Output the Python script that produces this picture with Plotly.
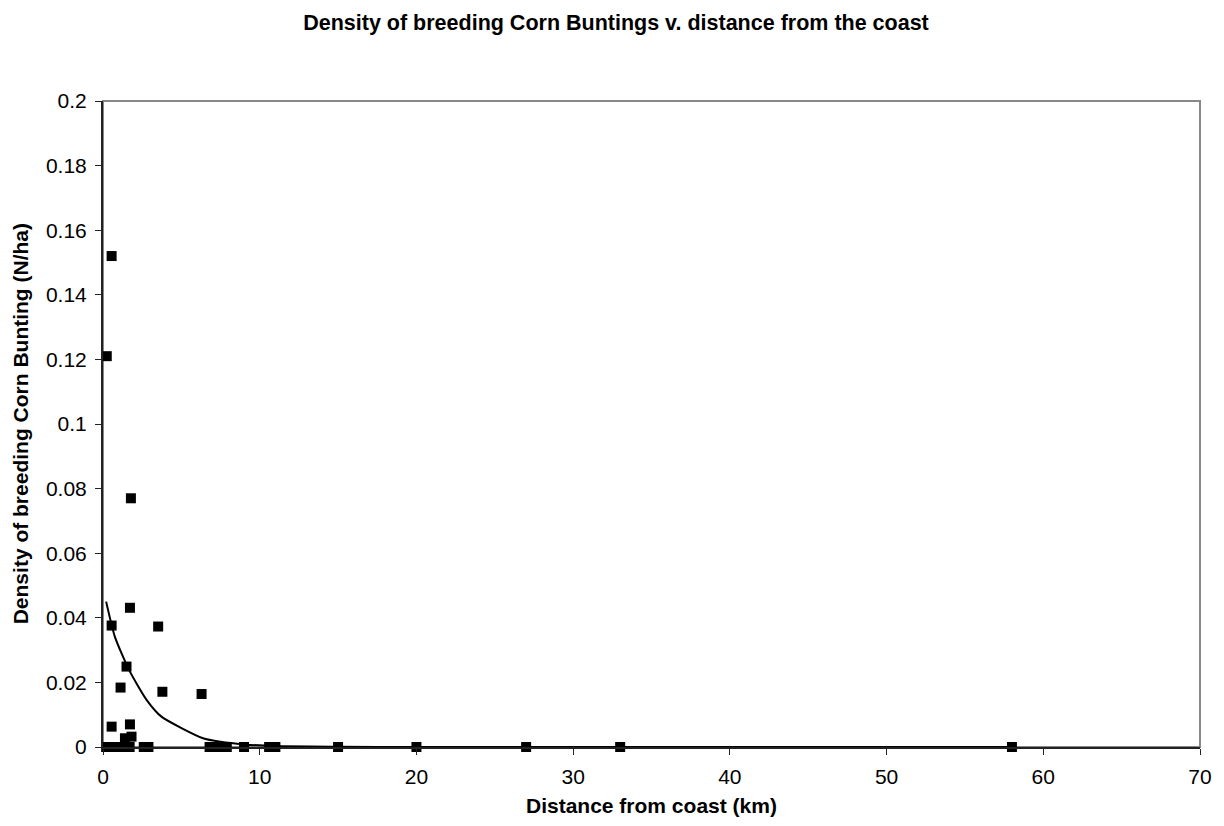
import plotly.graph_objects as go

# Observed data points (distance km, density N/ha)
distance = [0.24, 0.55, 1.78, 1.72, 0.55, 3.52, 1.5, 1.12, 3.79, 6.29, 0.55, 1.72, 1.82, 1.4,
            0.2, 0.5, 0.8, 1.1, 1.4, 1.7, 2.6, 2.9, 6.8, 7.2, 7.6, 7.9, 9.0, 10.6, 11.0,
            15.0, 20.0, 27.0, 33.0, 58.0]
density = [0.121, 0.152, 0.077, 0.0431, 0.0376, 0.0373, 0.0249, 0.0184, 0.0171, 0.0164,
           0.0063, 0.0070, 0.0032, 0.0027,
           0, 0, 0, 0, 0, 0, 0, 0, 0, 0, 0, 0, 0, 0, 0, 0, 0, 0, 0, 0]

# Trend line values
trend_x = [0.2, 0.76, 1.67, 2.78, 3.73, 6.38, 7.5, 9.0, 11.0, 15.0, 20.0, 27.0, 33.0, 58.0]
trend_y = [0.045, 0.0341, 0.0238, 0.0146, 0.0094, 0.0027, 0.0016, 0.0008, 0.0003, 0.0001,
           0.0, 0.0, 0.0, 0.0]

x_ticks = [0, 10, 20, 30, 40, 50, 60, 70]
y_ticks = [0, 0.02, 0.04, 0.06, 0.08, 0.1, 0.12, 0.14, 0.16, 0.18, 0.2]

font = "Liberation Sans, Arial, sans-serif"
FS = 21

# page body has an 8px margin, so the figure is offset by 8px
W, H = 1216, 818

fig = go.Figure()
fig.add_trace(go.Scatter(x=trend_x, y=trend_y, mode="lines",
                         line=dict(color="black", width=2, shape="spline", smoothing=0.6),
                         showlegend=False, hoverinfo="skip", cliponaxis=False))
fig.add_trace(go.Scatter(x=distance, y=density, mode="markers",
                         marker=dict(symbol="square", size=10, color="black"),
                         showlegend=False, cliponaxis=False))

fig.update_layout(
    width=W, height=H,
    paper_bgcolor="white", plot_bgcolor="white",
    margin=dict(l=95, r=20, t=93, b=79, pad=0),
    font=dict(family=font, size=FS, color="black"),
    title=dict(text="<b>Density of breeding Corn Buntings v. distance from the coast</b>",
               x=0.5, xanchor="center", yref="container", y=1 - 14 / H, yanchor="middle",
               font=dict(size=21.5, family=font, color="black")),
    shapes=[dict(type="rect", xref="paper", yref="paper", x0=0, y0=0, x1=1, y1=1,
                 line=dict(color="#888888", width=2), layer="below")],
    annotations=[
        dict(text="<b>Distance from coast (km)</b>", xref="paper", yref="paper",
             x=0.5, y=-(798 - 8 - 739) / (739 - 93), yanchor="top", xanchor="center",
             showarrow=False, font=dict(size=FS, family=font, color="black"), yshift=6),
        dict(text="<b>Density of breeding Corn Bunting (N/ha)</b>", xref="paper", yref="paper",
             x=-(95 - 12) / (W - 95 - 20), y=0.5, xanchor="center", yanchor="middle",
             textangle=-90, showarrow=False, font=dict(size=FS, family=font, color="black")),
    ],
)
fig.update_xaxes(range=[0, 70], tickvals=x_ticks, showgrid=False, zeroline=False,
                 showline=True, linecolor="#222222", linewidth=2,
                 ticks="outside", ticklen=6, tickcolor="#222222", ticklabelstandoff=4,
                 tickfont=dict(size=FS, family=font))
fig.update_yaxes(range=[0, 0.2], tickvals=y_ticks, showgrid=False, zeroline=False,
                 showline=True, linecolor="#222222", linewidth=2,
                 ticks="outside", ticklen=6, tickcolor="#222222", ticklabelstandoff=4,
                 tickfont=dict(size=FS, family=font))

fig.write_html("out.html")
